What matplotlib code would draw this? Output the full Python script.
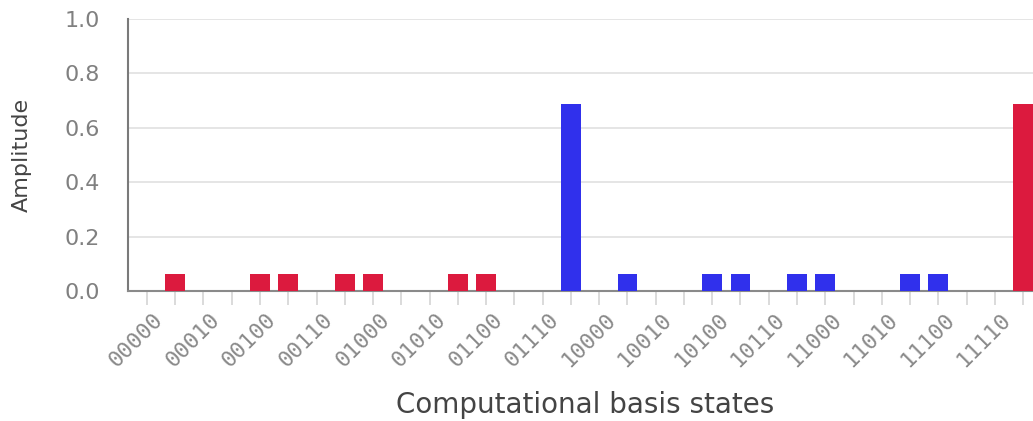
import matplotlib
matplotlib.use("Agg")
import matplotlib.pyplot as plt
from matplotlib.transforms import ScaledTranslation

# Five-qubit statevector amplitudes (magnitudes) and their phase sign
states = [format(i, "05b") for i in range(32)]
amplitudes = [0.0, 0.0625, 0.0, 0.0, 0.0625, 0.0625, 0.0, 0.0625,
              0.0625, 0.0, 0.0, 0.0625, 0.0625, 0.0, 0.0, 0.6875,
              0.0, 0.0625, 0.0, 0.0, 0.0625, 0.0625, 0.0, 0.0625,
              0.0625, 0.0, 0.0, 0.0625, 0.0625, 0.0, 0.0, 0.6875]
phase_positive = [True, True, True, True, True, True, True, True,
                  True, True, True, True, True, True, True, False,
                  False, False, False, False, False, False, False, False,
                  False, False, False, False, False, False, False, True]
y_ticks = [0.0, 0.2, 0.4, 0.6, 0.8, 1.0]

RED = "#dc1a3e"
BLUE = "#3030ec"
colors = [RED if p else BLUE for p in phase_positive]

fig = plt.figure(figsize=(10.33, 4.21), dpi=100)
ax = fig.add_axes([128 / 1033, 1 - 291 / 421, 1 - 128 / 1033, 272 / 421])

x = list(range(len(states)))
ax.bar(x, amplitudes, width=0.7, color=colors, zorder=3)

ax.set_xlim(-0.67, 31.35)
ax.set_ylim(0, 1.0)
ax.set_yticks(y_ticks)
ax.set_yticklabels([f"{v:.1f}" for v in y_ticks], fontsize=16,
                   color="#808080", family="DejaVu Sans")
ax.tick_params(axis="y", length=0, pad=20)
ax.yaxis.grid(True, color="#e0e0e0", linewidth=1.2, zorder=0)

ax.set_xticks(x)
ax.set_xticklabels([s if i % 2 == 0 else "" for i, s in enumerate(states)],
                   rotation=45, ha="right", va="center",
                   rotation_mode="anchor", fontsize=16,
                   family="DejaVu Sans Mono", color="#8a8a8a")
ax.tick_params(axis="x", length=10, width=1.2, color="#d4d4d4", pad=8)
shift = ScaledTranslation(13 / 100, 0, fig.dpi_scale_trans)
for lbl in ax.get_xticklabels():
    lbl.set_transform(lbl.get_transform() + shift)

for side in ("top", "right"):
    ax.spines[side].set_visible(False)
ax.spines["left"].set_color("#7a7a7a")
ax.spines["left"].set_linewidth(1.5)
ax.spines["bottom"].set_color("#8a8a8a")
ax.spines["bottom"].set_linewidth(1.5)

ax.set_ylabel("Amplitude", fontsize=16, color="#444444",
              family="DejaVu Sans")
ax.yaxis.set_label_coords(-(128 - 22) / (1033 - 128), (291 - 155) / 272)
ax.set_xlabel("Computational basis states", fontsize=20, color="#444444",
              family="DejaVu Sans")
ax.xaxis.set_label_coords((585 - 128) / (1033 - 128), -(405 - 291) / 272)
ax.xaxis.label.set_va("center")
ax.yaxis.label.set_va("center")

fig.savefig("out.png", dpi=100)
